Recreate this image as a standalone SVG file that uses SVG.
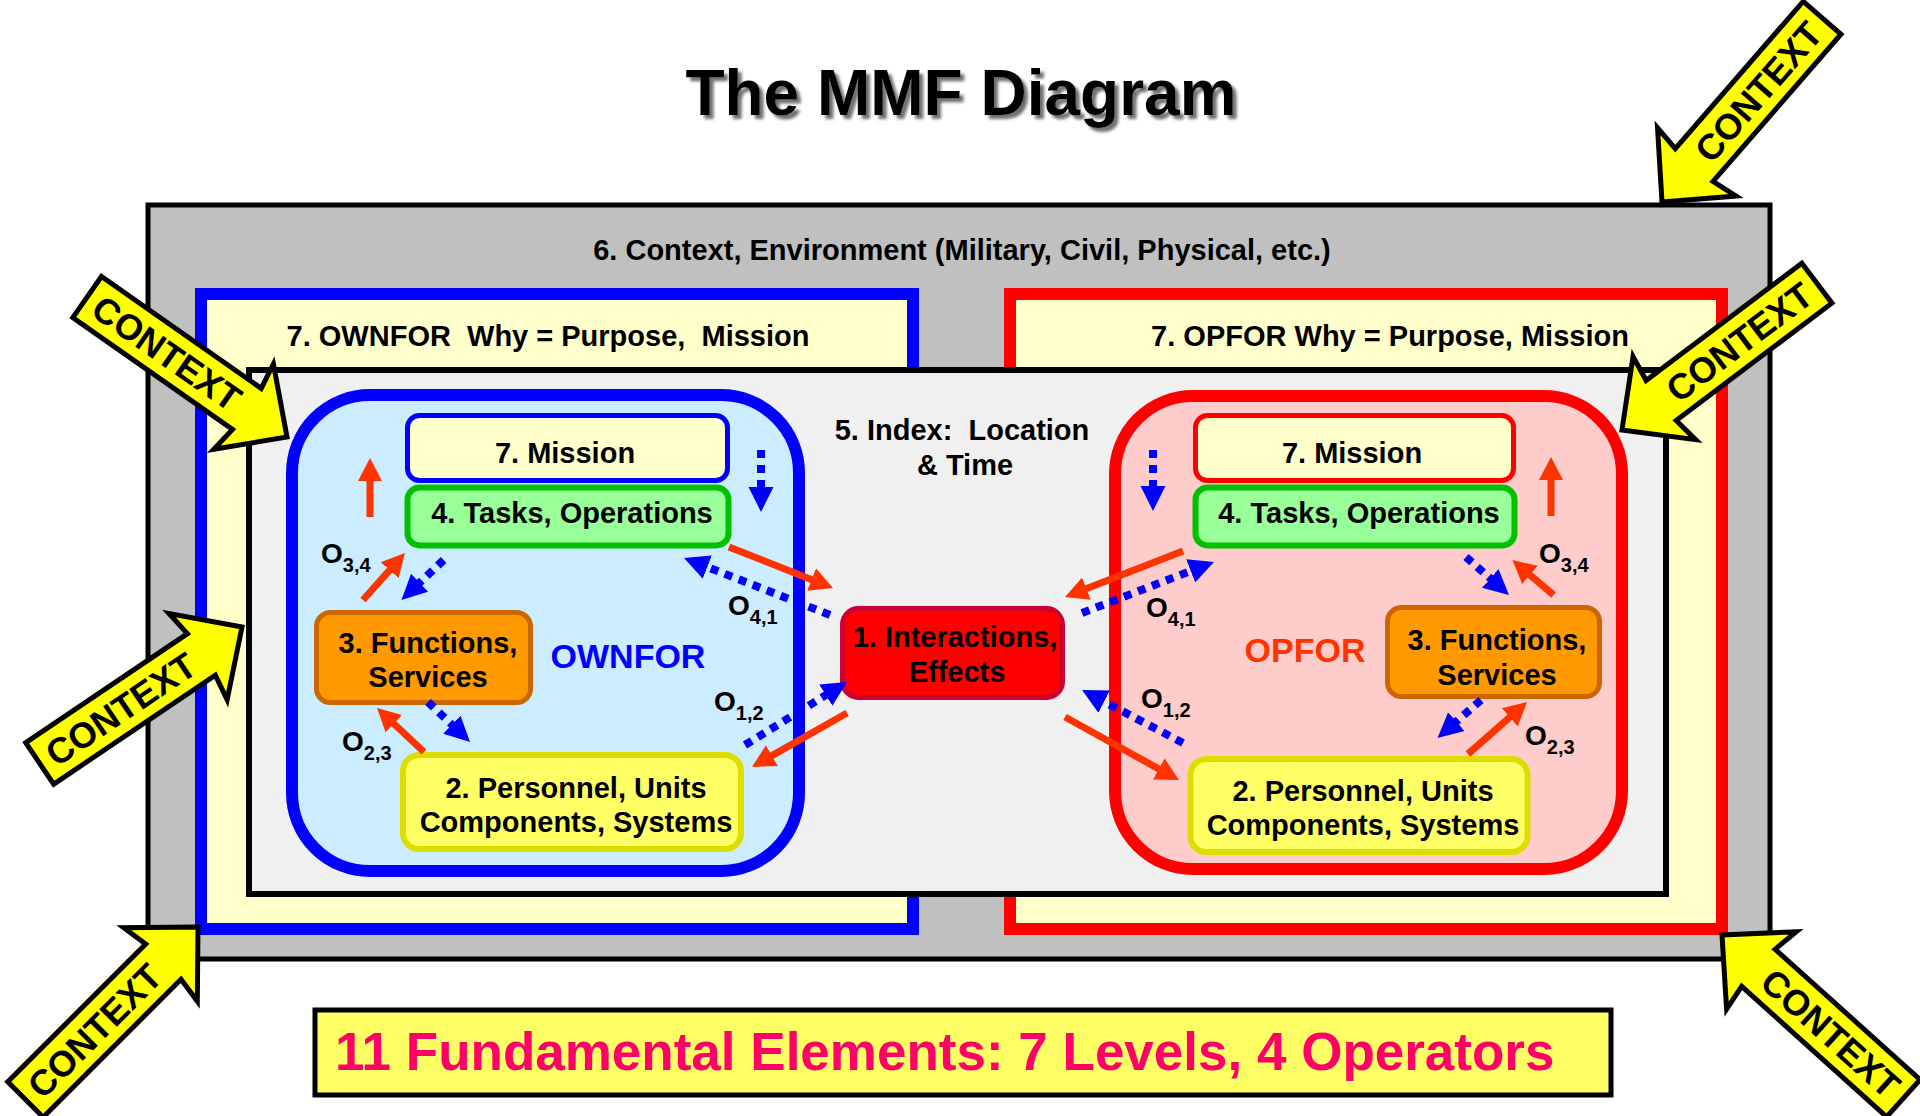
<svg xmlns="http://www.w3.org/2000/svg" width="1920" height="1116" viewBox="0 0 1920 1116">
<defs>
<style>
text{font-family:"Liberation Sans",Arial,Helvetica,sans-serif;font-weight:bold;fill:#000}
.lbl{font-size:29px;text-anchor:middle}
.op{font-size:28px}
.op tspan{font-size:20px}
.red{fill:none;stroke:#ff3300;stroke-width:7;marker-end:url(#hr)}
.blue{fill:none;stroke:#0000ff;stroke-width:8;stroke-dasharray:8 7;marker-end:url(#hb)}
.ctx{fill:#ffff00;stroke:#000;stroke-width:5;stroke-linejoin:miter}
.ctx text{font-size:36px;text-anchor:middle;fill:#000;stroke:none}
.mission{stroke-width:5;fill:#ffffcc}
.tasks{fill:#99ff99;stroke:#00c000;stroke-width:6}
.func{fill:#ff9900;stroke:#cc6600;stroke-width:5}
.pers{fill:#ffff66;stroke:#dddd00;stroke-width:6}
</style>
<marker id="hr" markerUnits="userSpaceOnUse" viewBox="0 -13 24 26" refX="1" refY="0" markerWidth="24" markerHeight="26" orient="auto">
<path d="M0,-12 L23,0 L0,12 Z" fill="#ff3300"/>
</marker>
<marker id="hb" markerUnits="userSpaceOnUse" viewBox="0 -13 26 26" refX="1" refY="0" markerWidth="26" markerHeight="26" orient="auto">
<path d="M0,-12.5 L25,0 L0,12.5 Z" fill="#0000ff"/>
</marker>
<!-- big CONTEXT arrow, tip at origin, pointing along +x -->
<path id="ctxArrow" d="M0,0 L-53,-52 L-49,-25 L-244,-25 L-244,25 L-49,25 L-53,52 Z"/>
<!-- soft grey drop shadow for the title -->
<filter id="shadow" x="-5%" y="-20%" width="115%" height="150%">
<feGaussianBlur in="SourceAlpha" stdDeviation="1.5" result="b"/>
<feOffset in="b" dx="4" dy="4" result="o"/>
<feFlood flood-color="#707070"/>
<feComposite in2="o" operator="in" result="s"/>
<feMerge><feMergeNode in="s"/><feMergeNode in="SourceGraphic"/></feMerge>
</filter>
</defs>

<rect width="1920" height="1116" fill="#ffffff"/>

<!-- title -->
<g id="title">
<text x="961" y="115" font-size="64" text-anchor="middle" filter="url(#shadow)">The MMF Diagram</text>
</g>

<!-- 6. context / environment -->
<g id="environment">
<rect x="148" y="205" width="1622" height="754" fill="#c0c0c0" stroke="#000" stroke-width="5"/>
<text class="lbl" x="962" y="260">6. Context, Environment (Military, Civil, Physical, etc.)</text>
</g>

<!-- 7. purpose frames -->
<g id="ownfor-purpose">
<rect x="201" y="294" width="712" height="635" fill="#ffffcc" stroke="#0000ff" stroke-width="12"/>
<text class="lbl" x="548" y="346" xml:space="preserve">7. OWNFOR  Why = Purpose,  Mission</text>
</g>
<g id="opfor-purpose">
<rect x="1010" y="294" width="712" height="635" fill="#ffffcc" stroke="#ff0000" stroke-width="12"/>
<text class="lbl" x="1390" y="346">7. OPFOR Why = Purpose, Mission</text>
</g>

<!-- 5. index -->
<g id="index">
<rect x="249" y="370" width="1417" height="524" fill="#f0f0f0" stroke="#000" stroke-width="6"/>
<text class="lbl" x="962" y="440" xml:space="preserve">5. Index:  Location</text>
<text class="lbl" x="965" y="475">&amp; Time</text>
</g>

<!-- force areas -->
<g id="ownfor">
<rect x="292" y="395" width="507" height="476" rx="78" fill="#ccecff" stroke="#0000ff" stroke-width="12"/>
<text x="628" y="668" font-size="34" text-anchor="middle" style="fill:#0000ff">OWNFOR</text>
</g>
<g id="opfor">
<rect x="1115" y="396" width="507" height="473" rx="78" fill="#ffcccc" stroke="#ff0000" stroke-width="12"/>
<text x="1305" y="662" font-size="34" text-anchor="middle" style="fill:#ff3300">OPFOR</text>
</g>

<!-- OWNFOR levels -->
<g id="own-mission">
<rect class="mission" x="407.5" y="415.5" width="320" height="65" rx="12" stroke="#0000ff"/>
<text class="lbl" x="565" y="463">7. Mission</text>
</g>
<g id="own-tasks">
<rect class="tasks" x="407.5" y="487.5" width="321" height="58" rx="12"/>
<text class="lbl" x="572" y="523">4. Tasks, Operations</text>
</g>
<g id="own-functions">
<rect class="func" x="316.5" y="612.5" width="214" height="90" rx="14"/>
<text class="lbl" x="428" y="653">3. Functions,</text>
<text class="lbl" x="428" y="687">Services</text>
</g>
<g id="own-personnel">
<rect class="pers" x="403" y="755" width="338" height="94" rx="16"/>
<text class="lbl" x="576" y="798">2. Personnel, Units</text>
<text class="lbl" x="576" y="832">Components, Systems</text>
</g>

<!-- OPFOR levels -->
<g id="op-mission">
<rect class="mission" x="1195.5" y="415.5" width="318" height="65" rx="12" stroke="#ff0000"/>
<text class="lbl" x="1352" y="463">7. Mission</text>
</g>
<g id="op-tasks">
<rect class="tasks" x="1195.5" y="487.5" width="319" height="58" rx="12"/>
<text class="lbl" x="1359" y="523">4. Tasks, Operations</text>
</g>
<g id="op-functions">
<rect class="func" x="1387.5" y="607.5" width="212" height="89" rx="14"/>
<text class="lbl" x="1497" y="650">3. Functions,</text>
<text class="lbl" x="1497" y="685">Services</text>
</g>
<g id="op-personnel">
<rect class="pers" x="1190.5" y="759" width="337" height="93" rx="16"/>
<text class="lbl" x="1363" y="801">2. Personnel, Units</text>
<text class="lbl" x="1363" y="835">Components, Systems</text>
</g>

<!-- 1. interactions -->
<g id="interactions">
<rect x="842.5" y="608.5" width="220" height="89" rx="16" fill="#ff0000" stroke="#cc0033" stroke-width="5"/>
<text class="lbl" x="955" y="647">1. Interactions,</text>
<text class="lbl" x="957" y="682">Effects</text>
</g>

<!-- operators -->
<g id="connectors">
<path class="red" d="M370,517 L370,480"/>
<path class="blue" d="M761,450 L761,488"/>
<path class="red" d="M363,600 L390.3,569.4"/>
<path class="blue" d="M443.6,560 L418.9,583.4"/>
<path class="red" d="M424,752 L393.1,723"/>
<path class="blue" d="M428,702 L452.6,725.4"/>
<path class="red" d="M729,547 L812.5,579.9"/>
<path class="blue" d="M830,615 L706.4,566.7"/>
<path class="blue" d="M745,745 L826.6,694.6"/>
<path class="red" d="M847,713 L771.1,756.1"/>

<path class="blue" d="M1153,450 L1153,487"/>
<path class="red" d="M1551,516 L1551,479"/>
<path class="blue" d="M1466,557 L1491,579.1"/>
<path class="red" d="M1553.6,595 L1529.2,574.3"/>
<path class="blue" d="M1481,700 L1455.6,722.2"/>
<path class="red" d="M1468,754 L1510.5,716.6"/>
<path class="red" d="M1183,551 L1085.5,589"/>
<path class="blue" d="M1082,613 L1191.6,570.6"/>
<path class="blue" d="M1183,743 L1103.3,701.2"/>
<path class="red" d="M1065,717 L1159.7,769.4"/>
</g>

<!-- operator labels -->
<g id="operator-labels">
<text class="op" x="321" y="563">O<tspan dy="9">3,4</tspan></text>
<text class="op" x="728" y="615">O<tspan dy="9">4,1</tspan></text>
<text class="op" x="714" y="711">O<tspan dy="9">1,2</tspan></text>
<text class="op" x="342" y="751">O<tspan dy="9">2,3</tspan></text>
<text class="op" x="1539" y="563">O<tspan dy="9">3,4</tspan></text>
<text class="op" x="1146" y="617">O<tspan dy="9">4,1</tspan></text>
<text class="op" x="1141" y="708">O<tspan dy="9">1,2</tspan></text>
<text class="op" x="1525" y="745">O<tspan dy="9">2,3</tspan></text>
</g>

<!-- CONTEXT arrows -->
<g id="context-arrows" class="ctx">
<g transform="translate(1662,202) rotate(131)"><use href="#ctxArrow"/><text transform="translate(-146.5,0) rotate(180)" y="13">CONTEXT</text></g>
<g transform="translate(287,437) rotate(35)"><use href="#ctxArrow"/><text transform="translate(-146.5,0)" y="13">CONTEXT</text></g>
<g transform="translate(242,627) rotate(-34)"><use href="#ctxArrow"/><text transform="translate(-146.5,0)" y="13">CONTEXT</text></g>
<g transform="translate(198,927) rotate(-45)"><use href="#ctxArrow"/><text transform="translate(-146.5,0)" y="13">CONTEXT</text></g>
<g transform="translate(1722,935) rotate(-138)"><use href="#ctxArrow"/><text transform="translate(-146.5,0) rotate(180)" y="13">CONTEXT</text></g>
<g transform="translate(1622,430) rotate(143)"><use href="#ctxArrow"/><text transform="translate(-146.5,0) rotate(180)" y="13">CONTEXT</text></g>
</g>

<!-- summary banner -->
<g id="summary">
<rect x="315" y="1010" width="1296" height="85" fill="#ffff66" stroke="#000" stroke-width="5"/>
<text x="335" y="1070" font-size="53" style="fill:#ff0066">11 Fundamental Elements: 7 Levels, 4 Operators</text>
</g>
</svg>
